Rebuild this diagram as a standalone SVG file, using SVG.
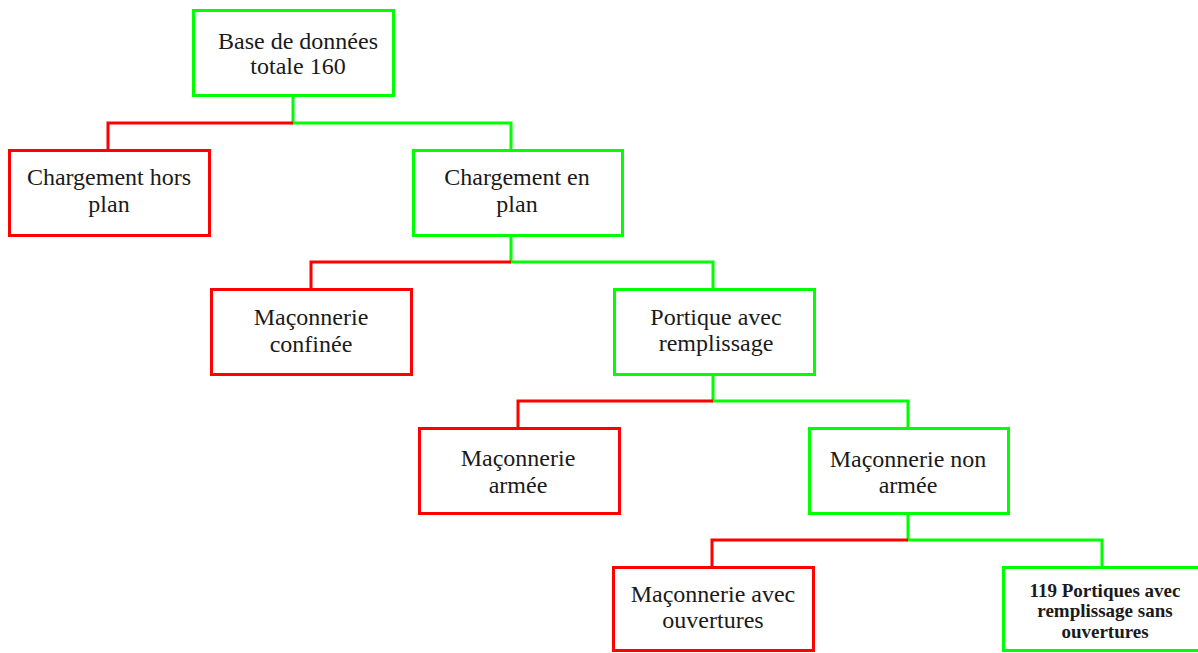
<svg xmlns="http://www.w3.org/2000/svg" width="1198" height="653" viewBox="0 0 1198 653">
<style>
.box{fill:#ffffff;stroke-width:3}
.g{stroke:#00ff00}
.r{stroke:#ff0000}
.t{font-family:"Liberation Serif","Times New Roman",serif;font-size:24px;fill:#1a1a1a;text-anchor:middle}
.tb{font-family:"Liberation Serif","Times New Roman",serif;font-size:19px;font-weight:bold;fill:#1a1a1a;text-anchor:middle}
.c{fill:none;stroke-width:3}
</style>
<rect width="1198" height="653" fill="#ffffff"/>
<g id="connectors">
<path class="c g" d="M293,96 V123 H511 V150"/>
<path class="c r" d="M293,123 H108 V150"/>
<path class="c g" d="M511,236 V262 H713 V289"/>
<path class="c r" d="M511,262 H311 V289"/>
<path class="c g" d="M713,375 V401 H908 V428"/>
<path class="c r" d="M713,401 H518 V428"/>
<path class="c g" d="M908,514 V540 H1102 V567"/>
<path class="c r" d="M908,540 H712 V567"/>
</g>
<g id="n1">
<rect class="box g" x="193.5" y="10.5" width="200" height="85"/>
<text class="t" x="298" y="49">Base de données</text>
<text class="t" x="298" y="74">totale 160</text>
</g>
<g id="n2">
<rect class="box r" x="9.5" y="150.5" width="200" height="85"/>
<text class="t" x="109" y="185">Chargement hors</text>
<text class="t" x="109" y="212">plan</text>
</g>
<g id="n3">
<rect class="box g" x="413.5" y="150.5" width="209" height="85"/>
<text class="t" x="517" y="185">Chargement en</text>
<text class="t" x="517" y="212">plan</text>
</g>
<g id="n4">
<rect class="box r" x="211.5" y="289.5" width="200" height="85"/>
<text class="t" x="311" y="325">Maçonnerie</text>
<text class="t" x="311" y="352">confinée</text>
</g>
<g id="n5">
<rect class="box g" x="614.5" y="289.5" width="200" height="85"/>
<text class="t" x="716" y="325">Portique avec</text>
<text class="t" x="716" y="351">remplissage</text>
</g>
<g id="n6">
<rect class="box r" x="419.5" y="428.5" width="200" height="85"/>
<text class="t" x="518" y="466">Maçonnerie</text>
<text class="t" x="518" y="493">armée</text>
</g>
<g id="n7">
<rect class="box g" x="809.5" y="428.5" width="199" height="85"/>
<text class="t" x="908" y="467">Maçonnerie non</text>
<text class="t" x="908" y="493">armée</text>
</g>
<g id="n8">
<rect class="box r" x="613.5" y="567.5" width="200" height="83"/>
<text class="t" x="713" y="602">Maçonnerie avec</text>
<text class="t" x="713" y="628">ouvertures</text>
</g>
<g id="n9">
<rect class="box g" x="1003.5" y="567.5" width="202" height="83"/>
<text class="tb" x="1105" y="597">119 Portiques avec</text>
<text class="tb" x="1105" y="617">remplissage sans</text>
<text class="tb" x="1105" y="638">ouvertures</text>
</g>
</svg>
